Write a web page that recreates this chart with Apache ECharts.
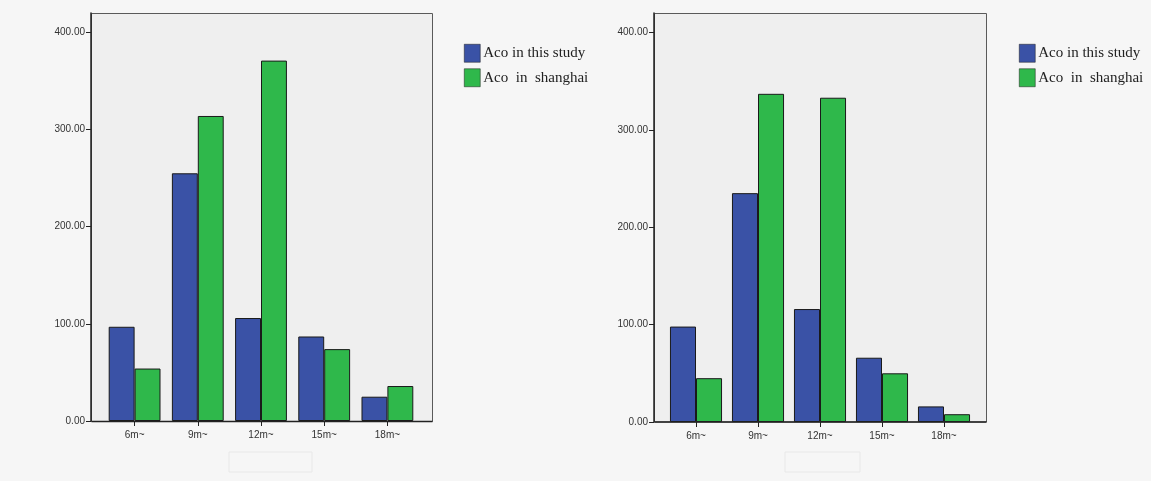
<!DOCTYPE html>
<html>
<head>
<meta charset="utf-8">
<script src="https://cdn.jsdelivr.net/npm/echarts@6/dist/echarts.min.js"></script>
<style>
html,body{margin:0;padding:0;background:#f6f6f6;}
#c{width:1151px;height:481px;}
</style>
</head>
<body>
<div id="c"></div>
<script>
const categories = ['6m~', '9m~', '12m~', '15m~', '18m~'];
const seriesNames = ['Aco in this study', 'Aco  in  shanghai'];
const leftStudy = [97, 255, 106, 87, 25];
const leftShanghai = [54, 314, 371, 74, 36];
const rightStudy = [98, 235, 116, 66, 16];
const rightShanghai = [45, 337, 333, 50, 8];
const yTicks = [0, 100, 200, 300, 400];

const BLUE = '#3a52a6';
const GREEN = '#2fb84b';
const chart = echarts.init(document.getElementById('c'));

function xAx(i) {
  return {
    type: 'category', gridIndex: i, data: categories,
    axisLine: { show: false },
    axisTick: { show: true, alignWithLabel: true, length: 5, lineStyle: { color: '#222' } },
    axisLabel: { fontSize: 10, color: '#333', margin: 9, fontFamily: 'Liberation Sans' },
    splitLine: { show: false }
  };
}
function yAx(i, off) {
  return {
    type: 'value', gridIndex: i, min: 0, max: 420, offset: off,
    axisLine: { show: true, lineStyle: { color: '#222', width: 1.5 } },
    axisTick: { show: true, length: 5, lineStyle: { color: '#222' }, customValues: yTicks },
    axisLabel: { fontSize: 10, color: '#333', margin: 6, fontFamily: 'Liberation Sans',
      customValues: yTicks, formatter: v => v.toFixed(2) },
    splitLine: { show: false }
  };
}
function bar(name, data, color, i, gap) {
  return {
    type: 'bar', name: name, data: data, xAxisIndex: i, yAxisIndex: i,
    barGap: '0%', barCategoryGap: gap,
    itemStyle: { color: color, borderColor: '#1a1a1a', borderWidth: 1 },
    animation: false
  };
}
function legend(left) {
  return {
    left: left, top: 39, orient: 'vertical', icon: 'rect',
    itemWidth: 16, itemHeight: 18, itemGap: 6,
    data: seriesNames,
    itemStyle: { borderWidth: 0.5 },
    textStyle: { fontFamily: 'Liberation Serif', fontSize: 15, color: '#222', padding: [0,0,0,-2] },
    selectedMode: false
  };
}
function frame(x, y, w, h) {
  return [
    { type: 'rect', z: -1, shape: { x: x, y: y, width: w, height: h },
      style: { fill: '#efefef', stroke: '#5a5a5a', lineWidth: 1 } },
    { type: 'line', z: 10, shape: { x1: x, y1: y + h, x2: x + w, y2: y + h },
      style: { stroke: '#222', lineWidth: 1.5 } }
  ];
}

chart.setOption({
  backgroundColor: '#f6f6f6',
  animation: false,
  graphic: [
    { type: 'rect', shape: { x: 229, y: 452, width: 83, height: 20 }, style: { fill: 'none', stroke: '#e8e8e8' } },
    { type: 'rect', shape: { x: 785, y: 452, width: 75, height: 20 }, style: { fill: 'none', stroke: '#e8e8e8' } },
    ...frame(91.5, 13.5, 341, 408),
    ...frame(654.5, 13.5, 332, 408.5)
  ],
  legend: [legend(459), legend(1014)],
  grid: [
    { left: 103, right: 732, top: 13, bottom: 60 },
    { left: 665, right: 176, top: 13, bottom: 59 }
  ],
  xAxis: [xAx(0), xAx(1)],
  yAxis: [yAx(0, 12), yAx(1, 11)],
  series: [
    bar(seriesNames[0], leftStudy, BLUE, 0, '18%'),
    bar(seriesNames[1], leftShanghai, GREEN, 0, '18%'),
    bar(seriesNames[0], rightStudy, BLUE, 1, '16%'),
    bar(seriesNames[1], rightShanghai, GREEN, 1, '16%')
  ]
});
</script>
</body>
</html>
